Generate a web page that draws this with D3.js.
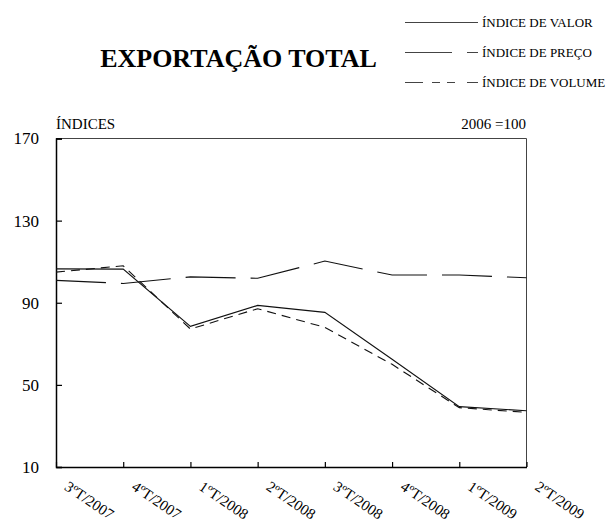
<!DOCTYPE html>
<html>
<head>
<meta charset="utf-8">
<script src="https://cdn.jsdelivr.net/npm/d3@7"></script>
<style>
  html, body { margin: 0; padding: 0; background: #fff; }
  svg { display: block; }
  svg text { font-family: "Liberation Serif", "Times New Roman", "DejaVu Serif", serif; }
</style>
</head>
<body>
<svg id="chart" width="612" height="527"></svg>
<script>
const categories = ["3ºT/2007","4ºT/2007","1ºT/2008","2ºT/2008","3ºT/2008","4ºT/2008","1ºT/2009","2ºT/2009"];
const valor  = [106.5, 106.4, 78.5, 88.7, 85.3, 62.5, 39.4, 37.4];
const preco  = [100.9, 99.4, 102.6, 101.9, 110.3, 103.5, 103.5, 102.2];
const volume = [104.9, 108.0, 77.2, 87.1, 78.0, 60.0, 38.9, 36.6];
const yTicks = [10, 50, 90, 130, 170];
const seriesNames = ["ÍNDICE DE VALOR", "ÍNDICE DE PREÇO", "ÍNDICE DE VOLUME"];

const serif = "'Liberation Serif', 'Times New Roman', serif";
const svg = d3.select("#chart");
const plotLeft = 56, plotRight = 526.5, plotTop = 138.5, plotBottom = 467;

const x = d3.scalePoint().domain(categories).range([plotLeft, plotRight]);
const y = d3.scaleLinear().domain([10, 170]).range([plotBottom, plotTop]);

// frame: top & right thin
svg.append("line").attr("x1", plotLeft).attr("x2", plotRight).attr("y1", plotTop).attr("y2", plotTop)
  .attr("stroke", "#444").attr("stroke-width", 1);
svg.append("line").attr("x1", plotRight).attr("x2", plotRight).attr("y1", plotTop).attr("y2", plotBottom)
  .attr("stroke", "#444").attr("stroke-width", 1);

// y axis
const yAxis = svg.append("g").attr("transform", `translate(${plotLeft},0)`)
  .call(d3.axisLeft(y).tickValues(yTicks).tickSize(-6).tickPadding(17).tickFormat(d3.format("d")));
yAxis.attr("font-family", serif);
yAxis.select(".domain").attr("stroke", "#000").attr("stroke-width", 1.5);
yAxis.selectAll(".tick line").attr("stroke", "#000").attr("stroke-width", 1.2);
yAxis.selectAll(".tick text").attr("font-size", 17).attr("fill", "#000")
  .attr("font-family", serif);

// x axis
const xAxis = svg.append("g").attr("transform", `translate(0,${plotBottom})`)
  .call(d3.axisBottom(x).tickSize(-5).tickSizeOuter(0));
xAxis.attr("font-family", serif);
xAxis.select(".domain").attr("stroke", "#000").attr("stroke-width", 1.5);
xAxis.selectAll(".tick line").attr("stroke", "#000").attr("stroke-width", 1.2);
xAxis.selectAll(".tick text")
  .attr("font-size", 15).attr("fill", "#000")
  .attr("font-family", serif)
  .attr("text-anchor", "start")
  .attr("x", 0).attr("y", 0).attr("dy", null)
  .attr("transform", "translate(7,22) rotate(34)");

// lines
const line = d3.line().x((d, i) => x(categories[i])).y(d => y(d));
svg.append("path").datum(valor).attr("d", line)
  .attr("fill", "none").attr("stroke", "#111").attr("stroke-width", 1.1);
svg.append("path").datum(preco).attr("d", line)
  .attr("fill", "none").attr("stroke", "#111").attr("stroke-width", 1.1)
  .attr("stroke-dasharray", "50,15");
svg.append("path").datum(volume).attr("d", line)
  .attr("fill", "none").attr("stroke", "#111").attr("stroke-width", 1.1)
  .attr("stroke-dasharray", "9,6");

// title
svg.append("text").attr("x", 238.5).attr("y", 67).attr("text-anchor", "middle")
  .attr("font-family", serif)
  .attr("font-size", 26).attr("font-weight", "bold").attr("fill", "#000")
  .text("EXPORTAÇÃO TOTAL");

svg.append("text").attr("x", 56).attr("y", 129).attr("font-size", 15).attr("fill", "#000")
  .attr("font-family", serif).text("ÍNDICES");
svg.append("text").attr("x", 526).attr("y", 128.5).attr("text-anchor", "end")
  .attr("font-family", serif)
  .attr("font-size", 15).attr("fill", "#000").text("2006 =100");

// legend
const legendDash = ["none", "47,15,11", "18,9,8,7,8,12,11"];
const legendY = [22.5, 52.5, 82.5];
seriesNames.forEach((name, i) => {
  svg.append("line").attr("x1", 405).attr("x2", 478).attr("y1", legendY[i]).attr("y2", legendY[i])
    .attr("stroke", "#444").attr("stroke-width", 1.2)
    .attr("stroke-dasharray", legendDash[i]);
  svg.append("text").attr("x", 482).attr("y", legendY[i] + 4.5)
    .attr("font-family", serif)
    .attr("font-size", 13).attr("fill", "#000").text(name);
});
</script>
</body>
</html>
